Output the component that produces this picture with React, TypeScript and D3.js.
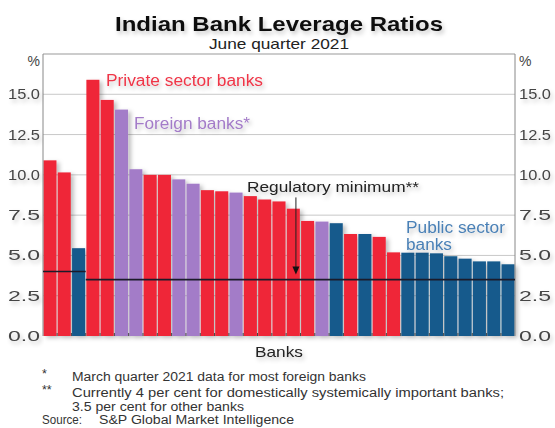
import React from "react";
import * as d3 from "d3";

const values = [10.9, 10.15, 5.45, 15.9, 14.65, 14.05, 10.35, 10.0, 10.0, 9.72, 9.45, 9.05, 8.98, 8.9, 8.68, 8.47, 8.35, 7.9, 7.14, 7.1, 7.0, 6.33, 6.33, 6.15, 5.19, 5.17, 5.17, 5.13, 4.95, 4.8, 4.63, 4.63, 4.45];
const sectors = [
  "Private", "Private", "Public", "Private", "Private", "Foreign", "Foreign", "Private", "Private",
  "Foreign", "Foreign", "Private", "Private", "Foreign", "Private", "Private", "Private", "Private",
  "Private", "Foreign", "Public", "Private", "Public", "Private", "Private",
  "Public", "Public", "Public", "Public", "Public", "Public", "Public", "Public",
];
const minimums = [4.0, 4.0, 4.0, 3.5, 3.5, 3.5, 3.5, 3.5, 3.5, 3.5, 3.5, 3.5, 3.5, 3.5, 3.5, 3.5, 3.5, 3.5, 3.5, 3.5, 3.5, 3.5, 3.5, 3.5, 3.5, 3.5, 3.5, 3.5, 3.5, 3.5, 3.5, 3.5, 3.5];
const yTicks = [0, 2.5, 5, 7.5, 10, 12.5, 15];

const colors: Record<string, string> = {
  Private: "#EF2537",
  Foreign: "#A37BC8",
  Public: "#165A8C",
};

const W = 555, H = 428;
const L = 43, R = 515, T = 54, B = 336;
const FONT = "'Liberation Sans', Arial, sans-serif";

export default function App() {
  const idx = values.map((_, i) => i);
  const x = d3.scaleBand<number>().domain(idx).range([L, R]).paddingInner(0.09).paddingOuter(0.03);
  const y = d3.scaleLinear().domain([0, 17.5]).range([B, T]);
  const step = x.step();

  const segs: { v: number; x0: number; x1: number }[] = [];
  minimums.forEach((m, i) => {
    const x0 = i === 0 ? L : (x(i) as number) - (step - x.bandwidth()) / 2;
    const x1 = i === minimums.length - 1 ? R : (x(i) as number) + x.bandwidth() + (step - x.bandwidth()) / 2;
    const last = segs[segs.length - 1];
    if (last && last.v === m) last.x1 = x1;
    else segs.push({ v: m, x0, x1 });
  });

  const arrowX = (x(17) as number) + x.bandwidth() * 0.7;
  const arrowTop = y(8.6);
  const arrowTip = y(3.5) - 5;

  const textShadow = "url(#tshadow)";

  return (
    <svg width={W} height={H} style={{ position: "absolute", left: 0, top: 0, background: "#fff" }} fontFamily={FONT}>
      <defs>
        <filter id="bshadow" x="-30%" y="-10%" width="180%" height="130%">
          <feDropShadow dx="3" dy="2" stdDeviation="2" floodColor="#000" floodOpacity="0.25" />
        </filter>
        <filter id="tshadow" x="-10%" y="-30%" width="120%" height="180%">
          <feDropShadow dx="2" dy="3" stdDeviation="2" floodColor="#000" floodOpacity="0.22" />
        </filter>
      </defs>
      <rect x={0} y={0} width={W} height={H} fill="#fff" />

      <text x={279} y={31} textAnchor="middle" fontSize={21} fontWeight="bold" fill="#111" textLength={328} lengthAdjust="spacingAndGlyphs" filter={textShadow}>
        Indian Bank Leverage Ratios
      </text>
      <text x={279} y={49} textAnchor="middle" fontSize={14.5} fill="#222" textLength={140} lengthAdjust="spacingAndGlyphs">
        June quarter 2021
      </text>

      {yTicks.filter((t) => t > 0).map((t) => (
        <line key={t} x1={L} x2={R} y1={y(t)} y2={y(t)} stroke="#c8c8c8" strokeWidth={1} />
      ))}
      <line x1={L} x2={R} y1={T} y2={T} stroke="#999" strokeWidth={1} />

      <g filter="url(#bshadow)">
        {values.map((v, i) => (
          <rect key={i} x={x(i)} y={y(v)} width={x.bandwidth()} height={B - y(v)} fill={colors[sectors[i]]} />
        ))}
      </g>

      <line x1={L} x2={L} y1={T} y2={B} stroke="#888" strokeWidth={1} />
      <line x1={R} x2={R} y1={T} y2={B} stroke="#888" strokeWidth={1} />
      <line x1={L} x2={R} y1={B + 0.5} y2={B + 0.5} stroke="#555" strokeWidth={1.2} filter="url(#bshadow)" />
      {idx.slice(1).map((i) => {
        const xx = (x(i) as number) - (step - x.bandwidth()) / 2;
        return <line key={i} x1={xx} x2={xx} y1={B} y2={B - 3} stroke="#444" strokeWidth={1} />;
      })}

      {segs.map((s, k) => (
        <line key={k} x1={s.x0} x2={s.x1} y1={y(s.v)} y2={y(s.v)} stroke="#1b1b2a" strokeWidth={1.6} />
      ))}
      <line x1={arrowX} x2={arrowX} y1={arrowTop} y2={arrowTip - 6} stroke="#222" strokeWidth={1} />
      <path d={`M${arrowX - 3.5},${arrowTip - 8} L${arrowX + 3.5},${arrowTip - 8} L${arrowX},${arrowTip} Z`} fill="#111" />

      {yTicks.map((t) => (
        <g key={t}>
          <text x={40} y={y(t) + 5} textAnchor="end" fontSize={14} fill="#444" textLength={32} lengthAdjust="spacingAndGlyphs" filter={textShadow}>
            {t.toFixed(1)}
          </text>
          <text x={519} y={y(t) + 5} textAnchor="start" fontSize={14} fill="#444" textLength={32} lengthAdjust="spacingAndGlyphs" filter={textShadow}>
            {t.toFixed(1)}
          </text>
        </g>
      ))}
      <text x={40} y={66} textAnchor="end" fontSize={14} fill="#444">%</text>
      <text x={519} y={66} textAnchor="start" fontSize={14} fill="#444">%</text>

      <text x={106} y={86} fontSize={16} fill="#EF3547" textLength={157} lengthAdjust="spacingAndGlyphs" filter={textShadow}>
        Private sector banks
      </text>
      <text x={134} y={129} fontSize={16} fill="#A37BC8" textLength={116} lengthAdjust="spacingAndGlyphs" filter={textShadow}>
        Foreign banks*
      </text>
      <text x={247} y={192} fontSize={15.5} fill="#222" textLength={172} lengthAdjust="spacingAndGlyphs" filter={textShadow}>
        Regulatory minimum**
      </text>
      <text x={406} y={233} fontSize={16} fill="#4A80B6" textLength={99} lengthAdjust="spacingAndGlyphs" filter={textShadow}>
        Public sector
      </text>
      <text x={406} y={250} fontSize={16} fill="#4A80B6" textLength={46} lengthAdjust="spacingAndGlyphs" filter={textShadow}>
        banks
      </text>

      <text x={279} y={357} textAnchor="middle" fontSize={15} fill="#222" textLength={48} lengthAdjust="spacingAndGlyphs" filter={textShadow}>
        Banks
      </text>

      <g fontSize={12.5} fill="#333">
        <text x={42} y={378}>*</text>
        <text x={72} y={381} textLength={294} lengthAdjust="spacingAndGlyphs">March quarter 2021 data for most foreign banks</text>
        <text x={42} y={394}>**</text>
        <text x={72} y={397} textLength={432} lengthAdjust="spacingAndGlyphs">Currently 4 per cent for domestically systemically important banks;</text>
        <text x={72} y={411} textLength={172} lengthAdjust="spacingAndGlyphs">3.5 per cent for other banks</text>
        <text x={42} y={424} textLength={40} lengthAdjust="spacingAndGlyphs">Source:</text>
        <text x={99} y={424} textLength={195} lengthAdjust="spacingAndGlyphs">S&amp;P Global Market Intelligence</text>
      </g>
    </svg>
  );
}
